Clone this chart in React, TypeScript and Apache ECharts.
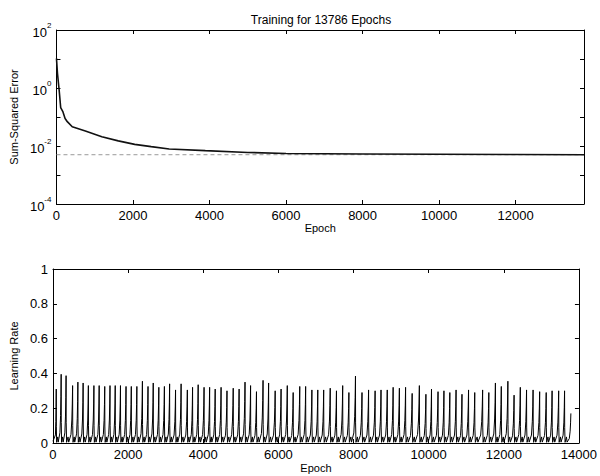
import React, { useEffect, useRef } from "react";
import * as echarts from "echarts";

const TITLE = "Training for 13786 Epochs";
const TOTAL_EPOCHS = 13786;
const ERROR_GOAL = 0.005;
const X_LABEL = "Epoch";
const ERR_Y_LABEL = "Sum-Squared Error";
const LR_Y_LABEL = "Learning Rate";

// Sum-squared error curve
const errEpochs = [0, 26, 70, 110, 170, 225, 283, 412, 755, 1185, 1615, 2045, 2475, 2945, 3890, 5000, 6000, 8000, 10000, 12000, 13786];
const errValues = [10.5, 3.2, 0.85, 0.21, 0.15, 0.089, 0.069, 0.046, 0.033, 0.021, 0.015, 0.0114, 0.0095, 0.0079, 0.0069, 0.006, 0.0055, 0.0053, 0.0052, 0.0051, 0.00499];

// Learning-rate spikes: epoch of each peak and its height
const lrPeakEpochs = [
  87, 218, 349, 523, 663, 803, 942, 1090, 1230, 1378, 1518, 1657, 1797, 1945, 2085, 2233, 2381, 2530, 2669, 2818, 2966, 3105, 3263, 3411,
  3577, 3716, 3865, 4022, 4170, 4318, 4475, 4632, 4798, 4955, 5112, 5260, 5417, 5592, 5740, 5915, 6072, 6237, 6394, 6569, 6726, 6892, 7049,
  7206, 7380, 7546, 7712, 7877, 8052, 8226, 8401, 8575, 8732, 8898, 9055, 9221, 9386, 9561, 9753, 9927, 10076, 10250, 10407, 10564,
  10730, 10887, 11062, 11227, 11437, 11602, 11777, 11934, 12109, 12274, 12440, 12606, 12780, 12955, 13129, 13286, 13461, 13618, 13786,
];
const lrPeakValues = [
  0.31, 0.395, 0.387, 0.33, 0.35, 0.345, 0.33, 0.33, 0.33, 0.325, 0.33, 0.33, 0.33, 0.325, 0.325, 0.325, 0.355, 0.325, 0.345, 0.32, 0.325, 0.34, 0.305, 0.34,
  0.305, 0.32, 0.335, 0.32, 0.32, 0.31, 0.32, 0.3, 0.315, 0.31, 0.35, 0.33, 0.295, 0.36, 0.345, 0.3, 0.31, 0.33, 0.29, 0.325, 0.325, 0.305, 0.305,
  0.305, 0.315, 0.3, 0.33, 0.29, 0.385, 0.29, 0.305, 0.3, 0.305, 0.305, 0.32, 0.315, 0.32, 0.285, 0.33, 0.28, 0.31, 0.295, 0.3, 0.29,
  0.305, 0.28, 0.305, 0.29, 0.305, 0.29, 0.345, 0.325, 0.355, 0.275, 0.32, 0.305, 0.305, 0.295, 0.29, 0.3, 0.3, 0.3, 0.17,
];
const LR_START = 0.01;

const FONT = "'Liberation Sans', Arial, Helvetica, sans-serif";

function buildLrPoints(): [number, number][] {
  const pts: [number, number][] = [[0, LR_START]];
  for (let i = 0; i < lrPeakEpochs.length; i++) {
    const p = lrPeakEpochs[i];
    const v = lrPeakValues[i];
    const prev = i === 0 ? 0 : lrPeakEpochs[i - 1];
    const g = p - prev;
    if (i > 0) {
      pts.push([prev + 0.08 * g, 0.004]);
      pts.push([prev + 0.3 * g, 0.035]);
      pts.push([prev + 0.4 * g, 0.005]);
    }
    pts.push([p - 0.25 * g, v * 0.15]);
    pts.push([p - 0.12 * g, v * 0.4]);
    pts.push([p - 0.05 * g, v * 0.68]);
    pts.push([p, v]);
    if (i < lrPeakEpochs.length - 1) pts.push([p + 3, v * 0.3]);
  }
  return pts;
}

const axisLine = { show: true, onZero: false, lineStyle: { color: "#000", width: 1 } };
const axisTick = { show: true, inside: true, length: 4, lineStyle: { color: "#000", width: 1 } };
const plainNum = (v: number) => String(v);

export default function App() {
  const ref = useRef<HTMLDivElement>(null);
  useEffect(() => {
    document.body.style.margin = "0";
    if (!ref.current) return;
    const chart = echarts.init(ref.current, undefined, { renderer: "svg" });
    const errData = errEpochs.map((e, i) => [e, errValues[i]]);
    const logFormatter = (v: number) => {
      const e = Math.round(Math.log10(v));
      return e % 2 === 0 ? `{b|10}{s|${e}}` : "";
    };
    const tickLabel = { show: true, fontSize: 13, color: "#000", margin: 5, fontFamily: FONT, formatter: plainNum };
    chart.setOption({
      animation: false,
      backgroundColor: "#fff",
      textStyle: { fontFamily: FONT, color: "#000" },
      title: {
        text: TITLE,
        left: 316,
        top: 9,
        textAlign: "center",
        textStyle: { fontSize: 12, fontWeight: "normal", color: "#000", fontFamily: FONT },
      },
      grid: [
        { left: 49, top: 30, width: 535, height: 174 },
        { left: 49, top: 269, width: 535, height: 174 },
      ],
      xAxis: [
        {
          gridIndex: 0, type: "value", min: 0, max: TOTAL_EPOCHS, interval: 2000, position: "bottom",
          axisLine, axisTick, splitLine: { show: false },
          axisLabel: { ...tickLabel, showMaxLabel: false },
          name: X_LABEL, nameLocation: "middle", nameGap: 18,
          nameTextStyle: { fontSize: 11, color: "#000", fontFamily: FONT },
        },
        {
          gridIndex: 0, type: "value", min: 0, max: TOTAL_EPOCHS, interval: 2000, position: "top",
          axisLine, axisTick, splitLine: { show: false }, axisLabel: { show: false },
        },
        {
          gridIndex: 1, type: "value", min: 0, max: 14000, interval: 2000, position: "bottom",
          axisLine, axisTick, splitLine: { show: false },
          axisLabel: { ...tickLabel },
          name: X_LABEL, nameLocation: "middle", nameGap: 19,
          nameTextStyle: { fontSize: 11, color: "#000", fontFamily: FONT },
        },
        {
          gridIndex: 1, type: "value", min: 0, max: 14000, interval: 2000, position: "top",
          axisLine, axisTick, splitLine: { show: false }, axisLabel: { show: false },
        },
      ],
      yAxis: [
        {
          gridIndex: 0, type: "log", logBase: 10, min: 1e-4, max: 100, position: "left",
          axisLine, axisTick, splitLine: { show: false },
          axisLabel: {
            show: true, margin: 5, color: "#000", formatter: logFormatter,
            rich: {
              b: { fontSize: 13, lineHeight: 17, verticalAlign: "bottom", color: "#000", fontFamily: FONT },
              s: { fontSize: 8, lineHeight: 8, verticalAlign: "top", color: "#000", fontFamily: FONT },
            },
          },
          name: ERR_Y_LABEL, nameLocation: "middle", nameGap: 29, nameRotate: 90,
          nameTextStyle: { fontSize: 11, color: "#000", fontFamily: FONT },
        },
        {
          gridIndex: 0, type: "log", logBase: 10, min: 1e-4, max: 100, position: "right",
          axisLine, axisTick, splitLine: { show: false }, axisLabel: { show: false },
        },
        {
          gridIndex: 1, type: "value", min: 0, max: 1, interval: 0.2, position: "left",
          axisLine, axisTick, splitLine: { show: false },
          axisLabel: { ...tickLabel },
          name: LR_Y_LABEL, nameLocation: "middle", nameGap: 25, nameRotate: 90,
          nameTextStyle: { fontSize: 11, color: "#000", fontFamily: FONT },
        },
        {
          gridIndex: 1, type: "value", min: 0, max: 1, interval: 0.2, position: "right",
          axisLine, axisTick, splitLine: { show: false }, axisLabel: { show: false },
        },
      ],
      series: [
        {
          name: "Goal", type: "line", xAxisIndex: 0, yAxisIndex: 0,
          data: [[0, ERROR_GOAL], [TOTAL_EPOCHS, ERROR_GOAL]],
          showSymbol: false, silent: true,
          lineStyle: { color: "#999", width: 1, type: [4, 3] },
        },
        {
          name: "Error", type: "line", xAxisIndex: 0, yAxisIndex: 0,
          data: errData, showSymbol: false, smooth: false,
          lineStyle: { color: "#111", width: 1.6 },
        },
        {
          name: "Learning Rate", type: "line", xAxisIndex: 2, yAxisIndex: 2,
          data: buildLrPoints(), showSymbol: false,
          lineStyle: { color: "#000", width: 1 },
        },
      ],
    });
    return () => chart.dispose();
  }, []);
  return <div ref={ref} style={{ width: 600, height: 476 }} />;
}
